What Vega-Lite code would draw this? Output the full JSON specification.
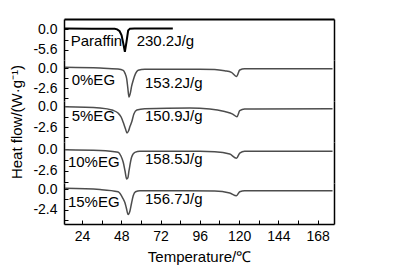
{
  "$schema": "https://vega.github.io/schema/vega-lite/v6.json",
  "padding": {"left": 9, "top": 19, "right": 5, "bottom": 5},
  "spacing": 0,
  "bounds": "flush",
  "resolve": {"scale": {"x": "independent", "y": "independent"}},
  "datasets": {
    "curves": [
      {"s": "Paraffin", "T": 13.6, "v": 0.15},
      {"s": "Paraffin", "T": 30, "v": 0.1},
      {"s": "Paraffin", "T": 44, "v": 0.05},
      {"s": "Paraffin", "T": 45.5, "v": -0.1},
      {"s": "Paraffin", "T": 47, "v": -0.6},
      {"s": "Paraffin", "T": 48.2, "v": -1.7},
      {"s": "Paraffin", "T": 49.3, "v": -4.0},
      {"s": "Paraffin", "T": 50.2, "v": -6.1},
      {"s": "Paraffin", "T": 51.2, "v": -3.4},
      {"s": "Paraffin", "T": 52.2, "v": -0.4},
      {"s": "Paraffin", "T": 53.3, "v": 0.1},
      {"s": "Paraffin", "T": 56, "v": 0.15},
      {"s": "Paraffin", "T": 79.5, "v": 0.15},

      {"s": "0%EG", "T": 13.6, "v": 0.09},
      {"s": "0%EG", "T": 35, "v": 0.0},
      {"s": "0%EG", "T": 46, "v": -0.13},
      {"s": "0%EG", "T": 49.2, "v": -0.3},
      {"s": "0%EG", "T": 50.3, "v": -0.7},
      {"s": "0%EG", "T": 51.3, "v": -1.39},
      {"s": "0%EG", "T": 52.0, "v": -2.6},
      {"s": "0%EG", "T": 52.7, "v": -3.77},
      {"s": "0%EG", "T": 53.5, "v": -3.3},
      {"s": "0%EG", "T": 54.3, "v": -2.4},
      {"s": "0%EG", "T": 55.3, "v": -1.6},
      {"s": "0%EG", "T": 56.7, "v": -0.74},
      {"s": "0%EG", "T": 58.3, "v": -0.3},
      {"s": "0%EG", "T": 62.4, "v": -0.17},
      {"s": "0%EG", "T": 96, "v": -0.15},
      {"s": "0%EG", "T": 105.1, "v": -0.18},
      {"s": "0%EG", "T": 111.2, "v": -0.35},
      {"s": "0%EG", "T": 115.3, "v": -0.56},
      {"s": "0%EG", "T": 118.4, "v": -1.1},
      {"s": "0%EG", "T": 120.4, "v": -0.26},
      {"s": "0%EG", "T": 123.4, "v": -0.09},
      {"s": "0%EG", "T": 177.1, "v": -0.09},

      {"s": "5%EG", "T": 13.6, "v": -0.05},
      {"s": "5%EG", "T": 35, "v": -0.2},
      {"s": "5%EG", "T": 42.9, "v": -0.5},
      {"s": "5%EG", "T": 46, "v": -0.84},
      {"s": "5%EG", "T": 47.9, "v": -1.34},
      {"s": "5%EG", "T": 49.2, "v": -2.01},
      {"s": "5%EG", "T": 50.6, "v": -2.85},
      {"s": "5%EG", "T": 51.5, "v": -3.35},
      {"s": "5%EG", "T": 52.4, "v": -3.1},
      {"s": "5%EG", "T": 53.3, "v": -2.54},
      {"s": "5%EG", "T": 54.3, "v": -2.01},
      {"s": "5%EG", "T": 55.7, "v": -0.97},
      {"s": "5%EG", "T": 57.5, "v": -0.46},
      {"s": "5%EG", "T": 62.4, "v": -0.3},
      {"s": "5%EG", "T": 89.9, "v": -0.2},
      {"s": "5%EG", "T": 102.1, "v": -0.32},
      {"s": "5%EG", "T": 111.2, "v": -0.65},
      {"s": "5%EG", "T": 116.1, "v": -0.97},
      {"s": "5%EG", "T": 118.7, "v": -1.3},
      {"s": "5%EG", "T": 120.4, "v": -0.55},
      {"s": "5%EG", "T": 123.4, "v": -0.34},
      {"s": "5%EG", "T": 177.1, "v": -0.3},

      {"s": "10%EG", "T": 13.6, "v": -0.08},
      {"s": "10%EG", "T": 35, "v": -0.18},
      {"s": "10%EG", "T": 46.1, "v": -0.4},
      {"s": "10%EG", "T": 47.8, "v": -0.84},
      {"s": "10%EG", "T": 49.2, "v": -1.59},
      {"s": "10%EG", "T": 50.3, "v": -2.63},
      {"s": "10%EG", "T": 51.3, "v": -3.59},
      {"s": "10%EG", "T": 52.0, "v": -3.47},
      {"s": "10%EG", "T": 52.7, "v": -2.63},
      {"s": "10%EG", "T": 54.3, "v": -0.99},
      {"s": "10%EG", "T": 56.3, "v": -0.4},
      {"s": "10%EG", "T": 59.4, "v": -0.28},
      {"s": "10%EG", "T": 96, "v": -0.28},
      {"s": "10%EG", "T": 105.1, "v": -0.32},
      {"s": "10%EG", "T": 114.3, "v": -0.6},
      {"s": "10%EG", "T": 118.4, "v": -1.11},
      {"s": "10%EG", "T": 120.4, "v": -0.48},
      {"s": "10%EG", "T": 123.4, "v": -0.28},
      {"s": "10%EG", "T": 177.1, "v": -0.28},

      {"s": "15%EG", "T": 13.6, "v": 0.08},
      {"s": "15%EG", "T": 35, "v": -0.06},
      {"s": "15%EG", "T": 46.1, "v": -0.31},
      {"s": "15%EG", "T": 49.2, "v": -1.16},
      {"s": "15%EG", "T": 50.3, "v": -1.62},
      {"s": "15%EG", "T": 51.1, "v": -2.2},
      {"s": "15%EG", "T": 52.2, "v": -2.96},
      {"s": "15%EG", "T": 53.3, "v": -2.55},
      {"s": "15%EG", "T": 54.3, "v": -1.62},
      {"s": "15%EG", "T": 55.3, "v": -0.78},
      {"s": "15%EG", "T": 56.7, "v": -0.31},
      {"s": "15%EG", "T": 59.4, "v": -0.2},
      {"s": "15%EG", "T": 105.1, "v": -0.23},
      {"s": "15%EG", "T": 114.3, "v": -0.46},
      {"s": "15%EG", "T": 118.4, "v": -0.78},
      {"s": "15%EG", "T": 120.4, "v": -0.31},
      {"s": "15%EG", "T": 123.4, "v": -0.2},
      {"s": "15%EG", "T": 177.1, "v": -0.2}
    ],
    "labels": [
      {"s": "Paraffin", "T": 17.1, "v": -3.2, "txt": "Paraffin"},
      {"s": "Paraffin", "T": 57.4, "v": -3.2, "txt": "230.2J/g"},
      {"s": "0%EG", "T": 17.7, "v": -1.5, "txt": "0%EG"},
      {"s": "0%EG", "T": 62.5, "v": -1.95, "txt": "153.2J/g"},
      {"s": "5%EG", "T": 17.7, "v": -1.24, "txt": "5%EG"},
      {"s": "5%EG", "T": 62.5, "v": -1.18, "txt": "150.9J/g"},
      {"s": "10%EG", "T": 15.4, "v": -1.55, "txt": "10%EG"},
      {"s": "10%EG", "T": 62.5, "v": -1.2, "txt": "158.5J/g"},
      {"s": "15%EG", "T": 15.4, "v": -1.5, "txt": "15%EG"},
      {"s": "15%EG", "T": 62.5, "v": -1.16, "txt": "156.7J/g"}
    ]
  },
  "vconcat": [
    {
      "width": 270, "height": 41,
      "resolve": {"axis": {"y": "independent"}},
      "layer": [
        {
          "data": {"name": "curves"},
          "transform": [{"filter": "datum.s === 'Paraffin'"}],
          "mark": {"type": "line", "color": "#000000", "strokeWidth": 2},
          "encoding": {
            "x": {"field": "T", "type": "quantitative", "scale": {"domain": [13, 178], "nice": false, "zero": false},
                  "axis": {"orient": "top", "labels": false, "ticks": false, "title": null, "domainWidth": 2}},
            "y": {"field": "v", "type": "quantitative", "scale": {"domain": [-8.27, 2.67], "nice": false, "zero": false},
                  "axis": {"orient": "left", "values": [0, -2.8, -5.6], "labelExpr": "datum.value == 0 || datum.value == -5.6 ? replace(format(datum.value, '.1f'), '−', '-') : ''", "title": null, "tickSize": -4, "labelPadding": 11, "domainWidth": 1.5}}
          }
        },
        {
          "data": {"name": "labels"},
          "transform": [{"filter": "datum.s === 'Paraffin'"}],
          "mark": {"type": "text", "align": "left", "baseline": "middle", "fontSize": 15, "color": "#000000"},
          "encoding": {
            "x": {"field": "T", "type": "quantitative", "axis": {"orient": "top", "labels": false, "ticks": false, "title": null, "domainWidth": 2}},
            "y": {"field": "v", "type": "quantitative", "axis": {"orient": "right", "labels": false, "ticks": false, "title": null, "domainWidth": 1.5}},
            "text": {"field": "txt"}
          }
        }
      ]
    },
    {
      "width": 270, "height": 41,
      "resolve": {"axis": {"y": "independent"}},
      "layer": [
        {
          "data": {"name": "curves"},
          "transform": [{"filter": "datum.s === '0%EG'"}],
          "mark": {"type": "line", "color": "#4d4d4d", "strokeWidth": 1.5, "interpolate": "monotone"},
          "encoding": {
            "x": {"field": "T", "type": "quantitative", "scale": {"domain": [13, 178], "nice": false, "zero": false}, "axis": null},
            "y": {"field": "v", "type": "quantitative", "scale": {"domain": [-4.29, 1.04], "nice": false, "zero": false},
                  "axis": {"orient": "left", "values": [0, -1.3, -2.6, -3.9], "labelExpr": "datum.value == 0 || datum.value == -2.6 ? replace(format(datum.value, '.1f'), '−', '-') : ''", "title": null, "tickSize": -4, "labelPadding": 11, "domainWidth": 1.5}}
          }
        },
        {
          "data": {"name": "labels"},
          "transform": [{"filter": "datum.s === '0%EG'"}],
          "mark": {"type": "text", "align": "left", "baseline": "middle", "fontSize": 15, "color": "#000000"},
          "encoding": {
            "x": {"field": "T", "type": "quantitative", "axis": null},
            "y": {"field": "v", "type": "quantitative", "axis": {"orient": "right", "labels": false, "ticks": false, "title": null, "domainWidth": 1.5}},
            "text": {"field": "txt"}
          }
        }
      ]
    },
    {
      "width": 270, "height": 41,
      "resolve": {"axis": {"y": "independent"}},
      "layer": [
        {
          "data": {"name": "curves"},
          "transform": [{"filter": "datum.s === '5%EG'"}],
          "mark": {"type": "line", "color": "#4d4d4d", "strokeWidth": 1.5, "interpolate": "monotone"},
          "encoding": {
            "x": {"field": "T", "type": "quantitative", "scale": {"domain": [13, 178], "nice": false, "zero": false}, "axis": null},
            "y": {"field": "v", "type": "quantitative", "scale": {"domain": [-4.48, 0.67], "nice": false, "zero": false},
                  "axis": {"orient": "left", "values": [0, -1.3, -2.6, -3.9], "labelExpr": "datum.value == 0 || datum.value == -2.6 ? replace(format(datum.value, '.1f'), '−', '-') : ''", "title": "Heat flow/(W·g⁻¹)", "titlePadding": 8, "tickSize": -4, "labelPadding": 11, "domainWidth": 1.5}}
          }
        },
        {
          "data": {"name": "labels"},
          "transform": [{"filter": "datum.s === '5%EG'"}],
          "mark": {"type": "text", "align": "left", "baseline": "middle", "fontSize": 15, "color": "#000000"},
          "encoding": {
            "x": {"field": "T", "type": "quantitative", "axis": null},
            "y": {"field": "v", "type": "quantitative", "axis": {"orient": "right", "labels": false, "ticks": false, "title": null, "domainWidth": 1.5}},
            "text": {"field": "txt"}
          }
        }
      ]
    },
    {
      "width": 270, "height": 41,
      "resolve": {"axis": {"y": "independent"}},
      "layer": [
        {
          "data": {"name": "curves"},
          "transform": [{"filter": "datum.s === '10%EG'"}],
          "mark": {"type": "line", "color": "#4d4d4d", "strokeWidth": 1.5, "interpolate": "monotone"},
          "encoding": {
            "x": {"field": "T", "type": "quantitative", "scale": {"domain": [13, 178], "nice": false, "zero": false}, "axis": null},
            "y": {"field": "v", "type": "quantitative", "scale": {"domain": [-4.07, 0.84], "nice": false, "zero": false},
                  "axis": {"orient": "left", "values": [0, -1.3, -2.6, -3.9], "labelExpr": "datum.value == 0 || datum.value == -2.6 ? replace(format(datum.value, '.1f'), '−', '-') : ''", "title": null, "tickSize": -4, "labelPadding": 11, "domainWidth": 1.5}}
          }
        },
        {
          "data": {"name": "labels"},
          "transform": [{"filter": "datum.s === '10%EG'"}],
          "mark": {"type": "text", "align": "left", "baseline": "middle", "fontSize": 15, "color": "#000000"},
          "encoding": {
            "x": {"field": "T", "type": "quantitative", "axis": null},
            "y": {"field": "v", "type": "quantitative", "axis": {"orient": "right", "labels": false, "ticks": false, "title": null, "domainWidth": 1.5}},
            "text": {"field": "txt"}
          }
        }
      ]
    },
    {
      "width": 270, "height": 41,
      "resolve": {"axis": {"y": "independent"}},
      "layer": [
        {
          "data": {"name": "curves"},
          "transform": [{"filter": "datum.s === '15%EG'"}],
          "mark": {"type": "line", "color": "#4d4d4d", "strokeWidth": 1.5, "interpolate": "monotone"},
          "encoding": {
            "x": {"field": "T", "type": "quantitative", "scale": {"domain": [13, 178], "nice": false, "zero": false},
                  "axis": {"orient": "bottom", "values": [24, 36, 48, 60, 72, 84, 96, 108, 120, 132, 144, 156, 168], "labelExpr": "datum.value % 24 == 0 ? datum.label : ''", "labelFlush": false, "tickSize": -4, "labelPadding": 9, "title": "Temperature/℃", "titlePadding": 6, "domainWidth": 1.5}},
            "y": {"field": "v", "type": "quantitative", "scale": {"domain": [-4.06, 0.70], "nice": false, "zero": false},
                  "axis": {"orient": "left", "values": [0, -1.2, -2.4, -3.6], "labelExpr": "datum.value == 0 || datum.value == -2.4 ? replace(format(datum.value, '.1f'), '−', '-') : ''", "title": null, "tickSize": -4, "labelPadding": 11, "domainWidth": 1.5}}
          }
        },
        {
          "data": {"name": "labels"},
          "transform": [{"filter": "datum.s === '15%EG'"}],
          "mark": {"type": "text", "align": "left", "baseline": "middle", "fontSize": 15, "color": "#000000"},
          "encoding": {
            "x": {"field": "T", "type": "quantitative", "axis": {"orient": "bottom", "values": [24, 36, 48, 60, 72, 84, 96, 108, 120, 132, 144, 156, 168], "labelExpr": "datum.value % 24 == 0 ? datum.label : ''", "labelFlush": false, "tickSize": -4, "labelPadding": 9, "title": "Temperature/℃", "titlePadding": 6, "domainWidth": 1.5}},
            "y": {"field": "v", "type": "quantitative", "axis": {"orient": "right", "labels": false, "ticks": false, "title": null, "domainWidth": 1.5}},
            "text": {"field": "txt"}
          }
        }
      ]
    }
  ],
  "config": {
    "font": "Liberation Sans",
    "view": {"stroke": null},
    "axis": {
      "grid": false,
      "labelFontSize": 14,
      "titleFontSize": 15,
      "titleFontWeight": "normal",
      "labelColor": "#000000",
      "titleColor": "#000000",
      "domainColor": "#000000",
      "tickColor": "#000000",
      "labelFont": "Liberation Sans",
      "titleFont": "Liberation Sans"
    }
  }
}
